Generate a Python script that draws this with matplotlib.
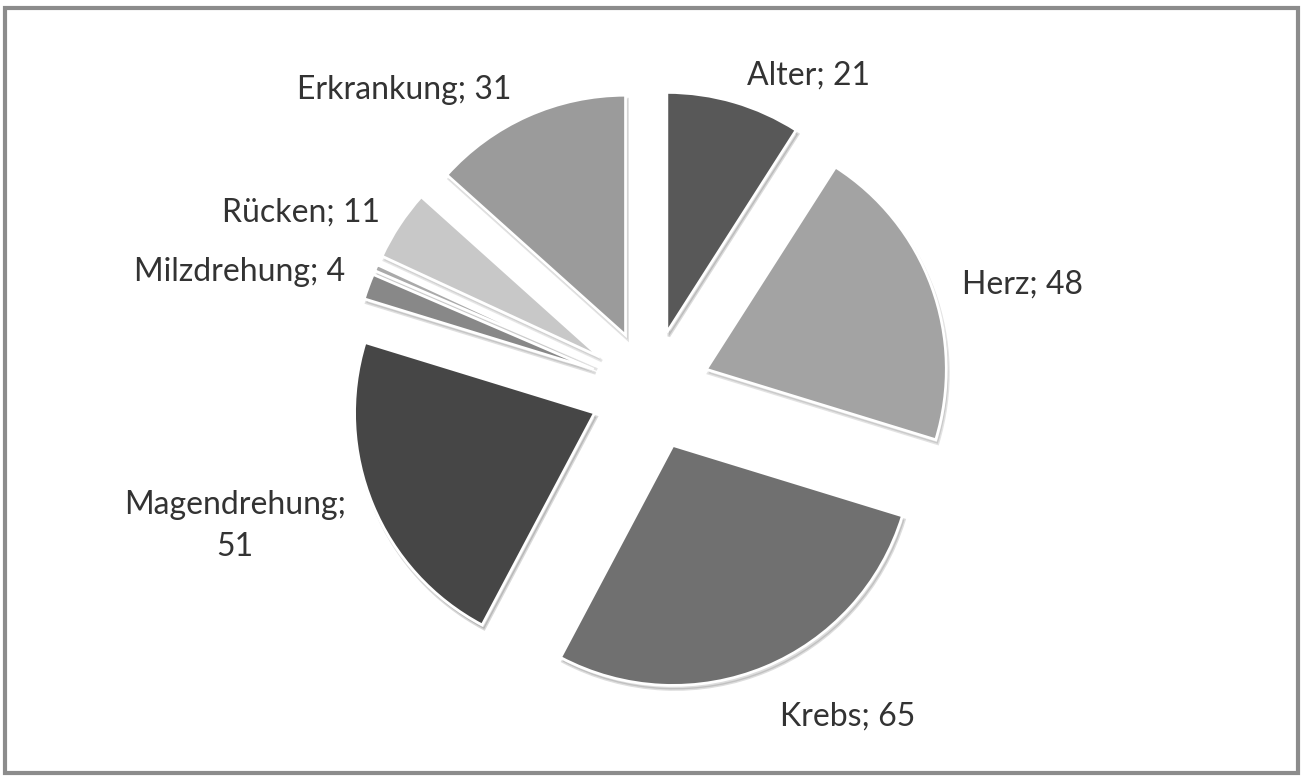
import matplotlib.pyplot as plt
from matplotlib.patches import Rectangle
import numpy as np

# Todesursachen (Anzahl)
categories = ['Alter', 'Herz', 'Krebs', 'Magendrehung', 'Milzdrehung', '', 'Rücken', 'Erkrankung']
values = [21, 48, 65, 51, 4, 1, 11, 31]
label_texts = ['Alter; 21', 'Herz; 48', 'Krebs; 65', 'Magendrehung;\n51', 'Milzdrehung; 4', '', 'Rücken; 11', 'Erkrankung; 31']

colors = ['#585858', '#a3a3a3', '#707070', '#464646', '#888888', '#aaaaaa', '#c8c8c8', '#9b9b9b']

# label layout (data units, pie radius = 1)
label_pos = [(0.66, 1.31), (1.55, 0.44), (0.825, -1.36), (-1.73, -0.565),
             (-1.71, 0.49), (0, 0), (-1.455, 0.74), (-1.025, 1.25)]

W, H = 1303, 782
R_PX = 240
CX, CY = 650, 392  # pie centre in px from left / bottom

plt.rcParams['font.family'] = ['Lato', 'DejaVu Sans']

fig = plt.figure(figsize=(W / 100, H / 100), dpi=100)
ax = fig.add_axes([0, 0, 1, 1])

wedges, _ = ax.pie(values, colors=colors, startangle=90, counterclock=False,
                   explode=[0.25] * len(values), radius=1,
                   wedgeprops=dict(edgecolor='white', linewidth=2),
                   shadow=dict(ox=0.006, oy=-0.012, shade=0.4, alpha=0.18))

for txt, (x, y) in zip(label_texts, label_pos):
    if txt:
        ax.text(x, y, txt, ha='center', va='center', fontsize=23, color='#333333',
                linespacing=1.5)

ax.set_xlim(-CX / R_PX, (W - CX) / R_PX)
ax.set_ylim(-CY / R_PX, (H - CY) / R_PX)
ax.set_aspect('auto')
ax.axis('off')

fig.patches.append(Rectangle((0.004, 0.012), 0.992, 0.978, transform=fig.transFigure,
                             fill=False, edgecolor='#8c8c8c', linewidth=3))

fig.savefig('out.png', dpi=100, facecolor='white')
